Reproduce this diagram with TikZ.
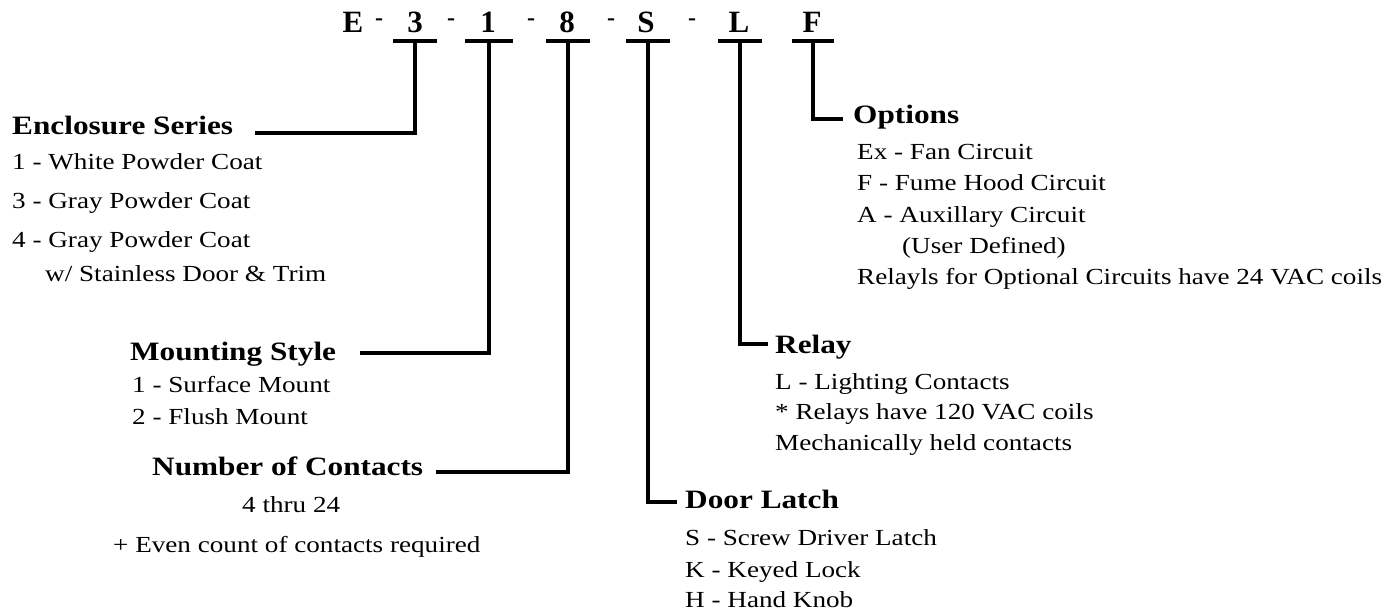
\documentclass[tikz,border=0pt]{standalone}
\usepackage{fontspec}
\setmainfont{Liberation Serif}[FakeStretch=1.18]
\newfontfamily\codefont{Liberation Serif}
\usetikzlibrary{positioning,calc}

\tikzset{
    heading/.style={anchor=base west, inner sep=0pt, font=\fontsize{26.5}{30}\selectfont\bfseries},
    entry/.style={anchor=base west, inner sep=0pt, font=\fontsize{23}{27}\selectfont},
    letter/.style={anchor=base, inner sep=0pt, font=\codefont\fontsize{31}{34}\selectfont\bfseries},
    hyphen/.style={anchor=base, inner sep=0pt, font=\codefont\fontsize{24}{27}\selectfont\bfseries},
    bar/.style={line width=3.5pt},
    lead/.style={line width=3.5pt}
}

\begin{document}
\begin{tikzpicture}[x=1pt,y=-1pt]
    \useasboundingbox (0,0) rectangle (1400,614);

    % Part number
    \node[letter] (cE) at (353,32) {E};
    \node[hyphen] (h1) at (379,25) {-};
    \node[letter] (c3) at (415,32) {3};
    \node[hyphen] (h2) at (451,25) {-};
    \node[letter] (c1) at (488,32) {1};
    \node[hyphen] (h3) at (531,25) {-};
    \node[letter] (c8) at (567,32) {8};
    \node[hyphen] (h4) at (611,25) {-};
    \node[letter] (cS) at (646,32) {S};
    \node[hyphen] (h5) at (692,25) {-};
    \node[letter] (cL) at (739,32) {L};
    \node[letter] (cF) at (812,32) {F};

    % Bars under the letters
    \coordinate (t3) at (415,41);
    \coordinate (t1) at (489,41);
    \coordinate (t8) at (568,41);
    \coordinate (tS) at (648,41);
    \coordinate (tL) at (740,41);
    \coordinate (tF) at (813,41);
    \draw[bar] ([xshift=-22pt]t3) -- ([xshift=22pt]t3);
    \draw[bar] ([xshift=-24pt]t1) -- ([xshift=24pt]t1);
    \draw[bar] ([xshift=-22pt]t8) -- ([xshift=22pt]t8);
    \draw[bar] ([xshift=-22pt]tS) -- ([xshift=22pt]tS);
    \draw[bar] ([xshift=-22pt]tL) -- ([xshift=22pt]tL);
    \draw[bar] ([xshift=-21pt]tF) -- ([xshift=21pt]tF);

    % Enclosure series
    \node[heading] (enc) at (12,134) {Enclosure Series};
    \node[entry] (enc1) at (12,169) {1 - White Powder Coat};
    \node[entry] (enc3) at (12,208) {3 - Gray Powder Coat};
    \node[entry] (enc4) at (12,247) {4 - Gray Powder Coat};
    \node[entry] (enc4b) at (45,281) {w/ Stainless Door \& Trim};
    \draw[lead] (t3) |- ([xshift=22pt,yshift=1pt]enc.base east);

    % Mounting style
    \node[heading] (mnt) at (130,360) {Mounting Style};
    \node[entry] (mnt1) at (132,392) {1 - Surface Mount};
    \node[entry] (mnt2) at (132,424) {2 - Flush Mount};
    \draw[lead] (t1) |- ([xshift=24pt,yshift=7pt]mnt.base east);

    % Number of contacts
    \node[heading] (num) at (152,475) {Number of Contacts};
    \node[entry] (num1) at (242,512) {4 thru 24};
    \node[entry] (num2) at (113,552) {+ Even count of contacts required};
    \draw[lead] (t8) |- ([xshift=13pt,yshift=3pt]num.base east);

    % Door latch
    \node[heading] (dl) at (685,508) {Door Latch};
    \node[entry] (dlS) at (685,545) {S - Screw Driver Latch};
    \node[entry] (dlK) at (685,577) {K - Keyed Lock};
    \node[entry] (dlH) at (685,607) {H - Hand Knob};
    \draw[lead] (tS) |- ([xshift=-8pt,yshift=6pt]dl.base west);

    % Relay
    \node[heading] (rly) at (775,353) {Relay};
    \node[entry] (rly1) at (775,389) {L - Lighting Contacts};
    \node[entry] (rly2) at (775,419) {* Relays have 120 VAC coils};
    \node[entry] (rly3) at (775,450) {Mechanically held contacts};
    \draw[lead] (tL) |- ([xshift=-7pt,yshift=9pt]rly.base west);

    % Options
    \node[heading] (opt) at (853,123) {Options};
    \node[entry] (optEx) at (857,159) {Ex - Fan Circuit};
    \node[entry] (optF) at (857,190) {F - Fume Hood Circuit};
    \node[entry] (optA) at (857,222) {A - Auxillary Circuit};
    \node[entry] (optA2) at (902,253) {(User Defined)};
    \node[entry] (optN) at (857,284) {Relayls for Optional Circuits have 24 VAC coils};
    \draw[lead] (tF) |- ([xshift=-10pt,yshift=4pt]opt.base west);
\end{tikzpicture}
\end{document}
